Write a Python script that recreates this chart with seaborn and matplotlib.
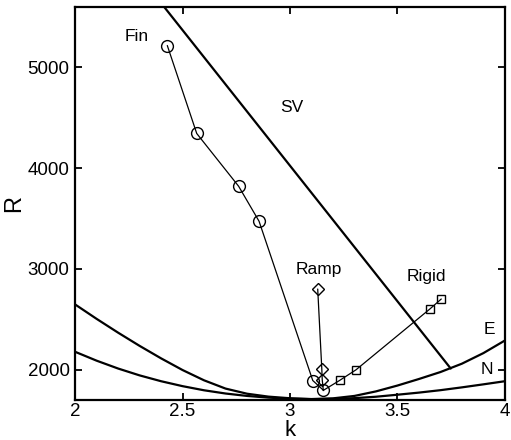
import matplotlib
matplotlib.use("Agg")
import matplotlib.pyplot as plt
import seaborn as sns

# marginal curves
k_curve = [2.0, 2.1, 2.2, 2.3, 2.4, 2.5, 2.6, 2.7, 2.8, 2.9, 3.0, 3.1, 3.2,
           3.3, 3.4, 3.5, 3.6, 3.7, 3.8, 3.9, 4.0]
R_N = [2178, 2090, 2012, 1944, 1886, 1837, 1796, 1764, 1740, 1723, 1712, 1708, 1710,
       1718, 1732, 1752, 1773, 1797, 1825, 1855, 1886]
R_E = [2648, 2505, 2368, 2237, 2113, 1997, 1895, 1813, 1762, 1733, 1717, 1709, 1716,
       1740, 1785, 1843, 1908, 1977, 2060, 2165, 2290]

# skewed-varicose boundary
k_sv = [2.40, 3.748]
R_sv = [5640, 2012]

# experiments
k_fin = [2.429, 2.566, 2.761, 2.856, 3.106, 3.155, 3.155]
R_fin = [5218, 4345, 3821, 3474, 1893, 1805, 1790]

k_ramp = [3.129, 3.148, 3.150, 3.155]
R_ramp = [2801, 2010, 1902, 1795]

k_rigid = [3.704, 3.651, 3.307, 3.231, 3.155]
R_rigid = [2702, 2603, 1999, 1894, 1795]

sns.set_style("ticks")
plt.rcParams['font.family'] = ['Liberation Sans', 'DejaVu Sans']
plt.rcParams.update({'text.color': 'black', 'axes.labelcolor': 'black',
                     'xtick.color': 'black', 'ytick.color': 'black',
                     'axes.edgecolor': 'black'})

fig = plt.figure(figsize=(5.11, 4.40), dpi=100)
ax = fig.add_axes([0.147, 0.091, 0.841, 0.893])

sns.lineplot(x=k_curve, y=R_N, sort=False, color='k', lw=1.6, ax=ax)
sns.lineplot(x=k_curve, y=R_E, sort=False, color='k', lw=1.6, ax=ax)
sns.lineplot(x=k_sv, y=R_sv, sort=False, color='k', lw=1.6, ax=ax)

sns.lineplot(x=k_fin, y=R_fin, sort=False, color='k', lw=0.9, marker='o', ms=8.5,
             mfc='none', mec='k', mew=1.0, ax=ax)
sns.lineplot(x=k_ramp, y=R_ramp, sort=False, color='k', lw=0.9, marker='D', ms=6.3,
             mfc='none', mec='k', mew=1.0, markevery=[0, 1, 2], ax=ax)
sns.lineplot(x=k_rigid, y=R_rigid, sort=False, color='k', lw=0.9, marker='s', ms=6,
             mfc='none', mec='k', mew=1.0, markevery=[0, 1, 2, 3], ax=ax)

lab = dict(fontsize=12.5, ha='center', va='center', color='black')
ax.text(2.285, 5305, 'Fin', **lab)
ax.text(3.01, 4600, 'SV', **lab)
ax.text(3.135, 2990, 'Ramp', **lab)
ax.text(3.635, 2930, 'Rigid', **lab)
ax.text(3.93, 2400, 'E', **lab)
ax.text(3.915, 2000, 'N', **lab)

ax.set_xlim(2, 4)
ax.set_ylim(1700, 5600)
ax.set_xticks([2, 2.5, 3, 3.5, 4])
ax.set_xticklabels(['2', '2.5', '3', '3.5', '4'])
ax.set_yticks([2000, 3000, 4000, 5000])
ax.tick_params(direction='in', top=True, right=True, length=5, width=1.3,
               labelsize=13.5, pad=4, colors='black')
ax.tick_params(axis='x', pad=2.5)
for s in ax.spines.values():
    s.set_linewidth(1.6)
    s.set_color('black')
    s.set_visible(True)

ax.set_xlabel('k', fontsize=16)
ax.set_ylabel('R', fontsize=17)
ax.xaxis.set_label_coords(0.5, -0.05)
ax.yaxis.set_label_coords(-0.116, 0.5)

fig.savefig('out.png', dpi=100)
